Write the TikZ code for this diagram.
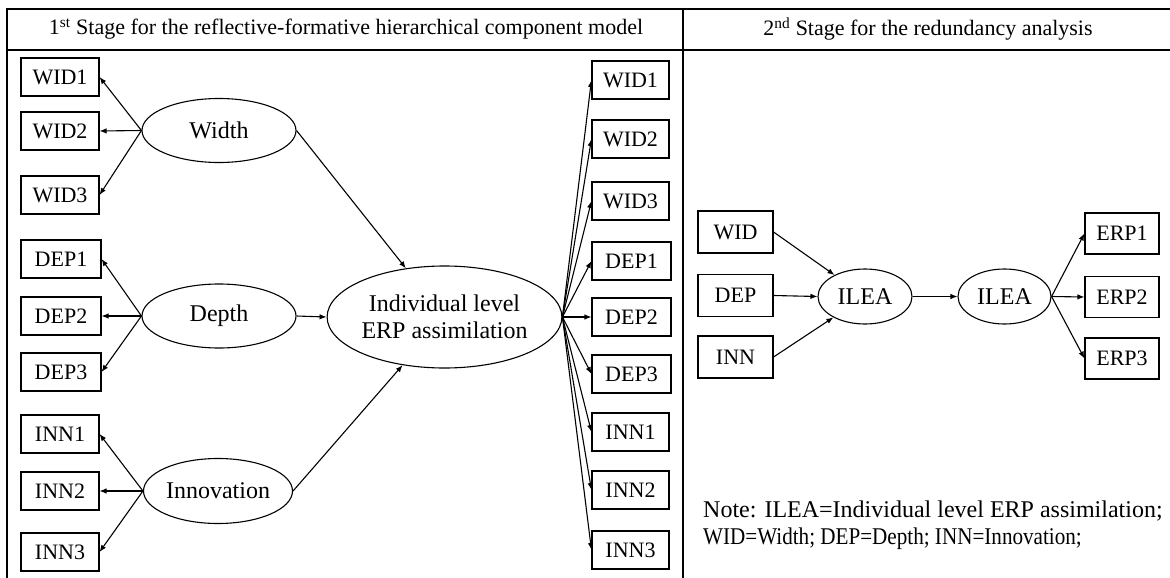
\documentclass[tikz,border=0pt]{standalone}
\usepackage{fontspec}
\setmainfont{Liberation Serif}
\usetikzlibrary{arrows.meta,shapes.geometric}
\begin{document}
\begin{tikzpicture}[x=1pt,y=-1pt,
  every node/.style={font=\fontsize{22}{26}\selectfont, inner sep=0pt},
  ind/.style={draw, line width=1.1pt, minimum width=78pt, minimum height=38pt},
  indb/.style={draw, line width=1.1pt, minimum width=75pt, minimum height=42pt},
  lat/.style={draw, ellipse, line width=1.1pt, font=\fontsize{24}{27}\selectfont},
  arr/.style={line width=1.1pt, -{Latex[length=7pt,width=5.5pt]}},
  frame/.style={line width=1.2pt}]
\useasboundingbox (0,0) rectangle (1170,578);
% frame
\draw[frame] (7,578) -- (7,9) -- (1170,9);
\draw[line width=1.8pt] (7,50) -- (1170,50);
\draw[frame] (683,9) -- (683,578);
\node (h1) at (346,29) {1\textsuperscript{st} Stage for the reflective-formative hierarchical component model};
\node (h2) at (928,29) {2\textsuperscript{nd} Stage for the redundancy analysis};
% left indicators
\node[ind] (lw1) at (60,77) {WID1};
\node[ind] (lw2) at (60,131) {WID2};
\node[ind] (lw3) at (60,195) {WID3};
\node[ind,minimum width=80pt] (ld1) at (61,259) {DEP1};
\node[ind,minimum width=80pt] (ld2) at (61,316) {DEP2};
\node[ind,minimum width=80pt] (ld3) at (61,372) {DEP3};
\node[ind] (li1) at (60,434) {INN1};
\node[ind] (li2) at (60,491) {INN2};
\node[ind] (li3) at (60,552) {INN3};
% first-order constructs
\node[lat, minimum width=154pt, minimum height=64pt] (W) at (219,130.5) {Width};
\node[lat, minimum width=154pt, minimum height=64pt] (D) at (219,316) {Depth};
\node[lat, minimum width=149pt, minimum height=65pt] (I) at (218,491) {Innovation};
\node[lat, minimum width=221pt, minimum height=102pt, align=center] (B) at (444.5,317) {Individual level\\ERP assimilation};
% right indicators
\node[ind,minimum width=77pt] (rw1) at (630.5,80) {WID1};
\node[ind,minimum width=77pt] (rw2) at (630.5,139) {WID2};
\node[ind,minimum width=77pt] (rw3) at (630.5,201) {WID3};
\node[ind,minimum width=79pt] (rd1) at (631.5,261) {DEP1};
\node[ind,minimum width=79pt] (rd2) at (631.5,317) {DEP2};
\node[ind,minimum width=79pt] (rd3) at (631.5,374) {DEP3};
\node[ind,minimum width=77pt] (ri1) at (630.5,432) {INN1};
\node[ind,minimum width=77pt] (ri2) at (630.5,490) {INN2};
\node[ind,minimum width=77pt] (ri3) at (630.5,550) {INN3};
% arrows stage 1
\foreach \t in {lw1,lw2,lw3} \draw[arr] (W.west) -- (\t.east);
\foreach \t in {ld1,ld2,ld3} \draw[arr] (D.west) -- (\t.east);
\foreach \t in {li1,li2,li3} \draw[arr] (I.west) -- (\t.east);
\draw[arr] (W.east) -- (B);
\draw[arr] (D.east) -- (B.west);
\draw[arr] (I.east) -- (B);
\foreach \t in {rw1,rw2,rw3,rd1,rd2,rd3,ri1,ri2,ri3} \draw[arr] (B.east) -- (\t.west);
% stage 2
\node[indb] (sw) at (735.5,232) {WID};
\node[indb] (sd) at (735.5,295.5) {DEP};
\node[indb] (si) at (735.5,357) {INN};
\node[lat, minimum width=94pt, minimum height=55pt] (L1) at (865,296.5) {ILEA};
\node[lat, minimum width=93pt, minimum height=55pt] (L2) at (1004.5,296.5) {ILEA};
\node[indb,minimum width=74pt,minimum height=41pt] (e1) at (1122,233.5) {ERP1};
\node[indb,minimum width=74pt,minimum height=41pt] (e2) at (1122,297) {ERP2};
\node[indb,minimum width=74pt,minimum height=41pt] (e3) at (1122,358.5) {ERP3};
\draw[arr] (sw.east) -- (L1);
\draw[arr] (sd.east) -- (L1.west);
\draw[arr] (si.east) -- (L1);
\draw[arr] (L1.east) -- (L2.west);
\draw[arr] (L2.east) -- (e1.west);
\draw[arr] (L2.east) -- (e2.west);
\draw[arr] (L2.east) -- (e3.west);
\node[anchor=west, align=left, font=\fontsize{24}{27}\selectfont] (note) at (703,525) {Note: ILEA=Individual level ERP assimilation;\\\scalebox{0.88}[1]{WID=Width; DEP=Depth; INN=Innovation;}};
\end{tikzpicture}
\end{document}
